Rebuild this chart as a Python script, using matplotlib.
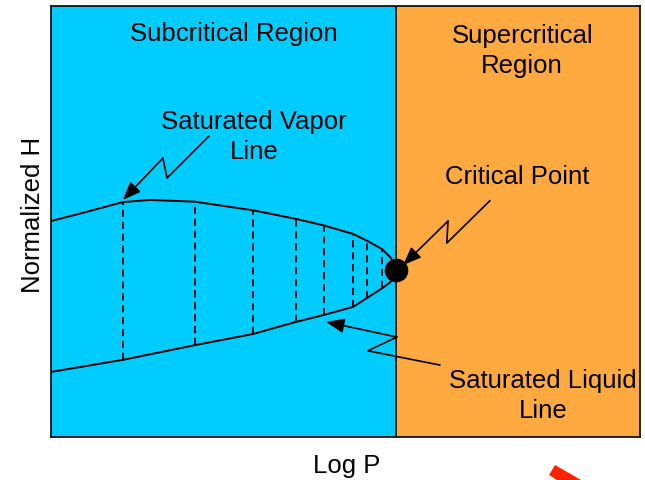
import matplotlib
matplotlib.use("Agg")
import matplotlib.pyplot as plt
from matplotlib.patches import Polygon

plt.rcParams['font.family'] = ['Liberation Sans', 'DejaVu Sans']

# normalized log P / normalized H
vapor_p = [0.000, 0.054, 0.122, 0.168, 0.244, 0.343, 0.416, 0.463, 0.513, 0.537, 0.562, 0.576, 0.582, 0.586]
vapor_h = [0.501, 0.520, 0.545, 0.550, 0.546, 0.526, 0.506, 0.491, 0.471, 0.455, 0.436, 0.417, 0.404, 0.387]
liquid_p = [0.000, 0.122, 0.244, 0.343, 0.416, 0.463, 0.513, 0.537, 0.562, 0.576, 0.582, 0.586]
liquid_h = [0.151, 0.179, 0.213, 0.239, 0.267, 0.283, 0.302, 0.323, 0.345, 0.359, 0.371, 0.387]

# tie lines between the two saturation curves
tie_p = [0.122, 0.244, 0.343, 0.416, 0.463, 0.513, 0.537, 0.562]
tie_top = [0.545, 0.546, 0.526, 0.506, 0.491, 0.471, 0.455, 0.436]
tie_bot = [0.179, 0.213, 0.239, 0.267, 0.283, 0.302, 0.323, 0.345]

crit_p, crit_h = 0.586, 0.387
split_p = 0.586

# zig-zag callouts: (p, h) vertices, last one is the arrow tip
callouts = {
    'vapor': [(0.268, 0.698), (0.197, 0.601), (0.190, 0.647), (0.122, 0.550)],
    'crit': [(0.745, 0.548), (0.672, 0.450), (0.674, 0.501), (0.598, 0.399)],
    'liquid': [(0.660, 0.167), (0.538, 0.200), (0.587, 0.232), (0.467, 0.267)],
}

labels = [
    ("Subcritical Region", 0.311, 0.937),
    ("Supercritical\nRegion", 0.800, 0.898),
    ("Saturated Vapor\nLine", 0.345, 0.698),
    ("Critical Point", 0.792, 0.606),
    ("Saturated Liquid\nLine", 0.835, 0.097),
]

red_mark = [(555, 466), (549, 476), (557, 481), (581, 481)]  # pixel coords

W, H = 645, 481
fig = plt.figure(figsize=(W / 100, H / 100), dpi=100)
ax = fig.add_axes([51 / W, 1 - 438 / H, 589 / W, 431 / H])
ax.set_xlim(0, 1)
ax.set_ylim(0, 1)

ax.axvspan(0, split_p, color='#00CCFF', lw=0, zorder=0)
ax.axvspan(split_p, 1, color='#FFAA40', lw=0, zorder=0)
ax.axvline(split_p, color='black', lw=1.2, zorder=1)

ax.plot(vapor_p, vapor_h, color='black', lw=1.4, zorder=3, solid_joinstyle='round')
ax.plot(liquid_p, liquid_h, color='black', lw=1.4, zorder=3, solid_joinstyle='round')
ax.vlines(tie_p, tie_bot, tie_top, colors='black', lw=1.3, linestyles=(0, (4, 2.6)), zorder=2)
ax.plot(crit_p, crit_h, 'o', color='black', ms=16, zorder=4)

for pts in callouts.values():
    xs = [p[0] for p in pts[:-1]]
    ys = [p[1] for p in pts[:-1]]
    ax.plot(xs, ys, color='black', lw=1.2, zorder=3)
    ax.annotate('', xy=pts[-1], xytext=pts[-2],
                arrowprops=dict(arrowstyle='-|>,head_length=0.55,head_width=0.22',
                                color='black', lw=1.2, shrinkA=0, shrinkB=0,
                                mutation_scale=20), zorder=3)

for txt, x, y in labels:
    ax.text(x, y, txt, ha='center', va='center', fontsize=18.5,
            linespacing=1.33, zorder=5)

ax.set_xticks([])
ax.set_yticks([])
for s in ax.spines.values():
    s.set_linewidth(1.2)

ax.set_xlabel("Log P", fontsize=18.5, va='center')
ax.xaxis.set_label_coords(0.502, -0.066)
ax.set_ylabel("Normalized H", fontsize=18.5, va='center')
ax.yaxis.set_label_coords(-0.031, 0.517)

fig.patches.append(Polygon([(x / W, 1 - y / H) for x, y in red_mark], closed=True,
                           transform=fig.transFigure, facecolor='#FF2200',
                           edgecolor='none'))

fig.savefig('out.png', dpi=100)
